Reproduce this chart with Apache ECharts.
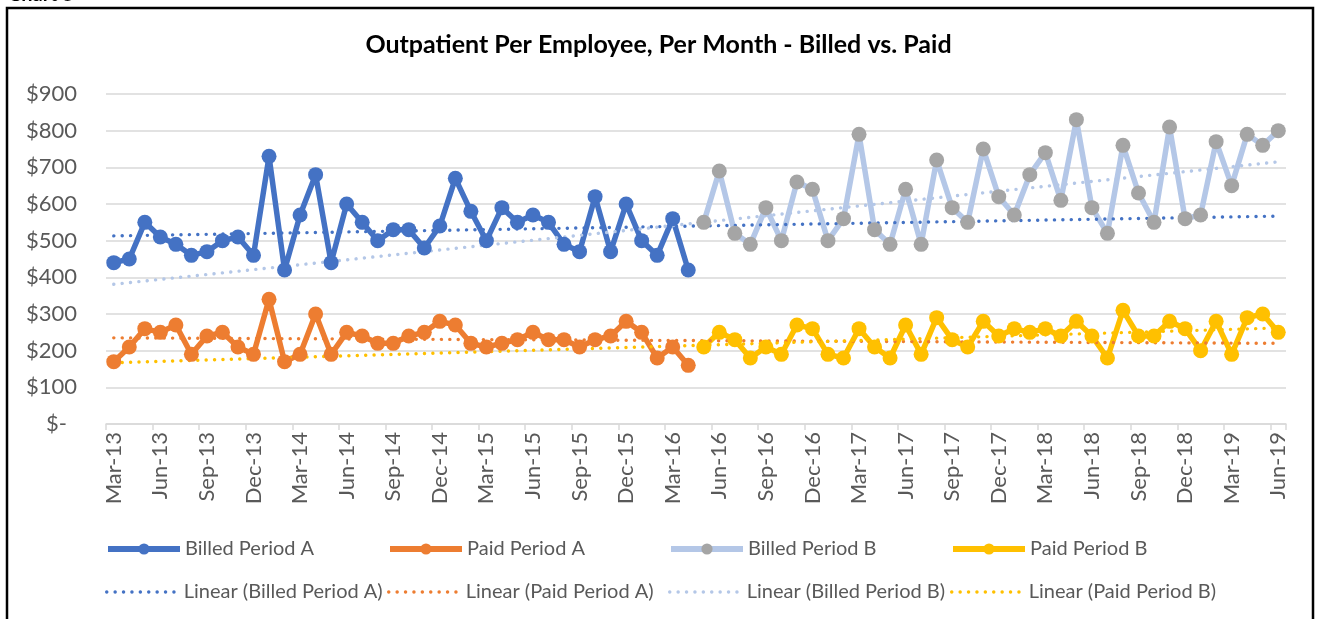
<!DOCTYPE html>
<html lang="en">
<head>
<meta charset="utf-8">
<title>Outpatient Per Employee, Per Month</title>
<script src="https://cdn.jsdelivr.net/npm/echarts@6/dist/echarts.min.js"></script>
<style>
  html, body { margin: 0; padding: 0; background: #fff; }
  #chart { width: 1317px; height: 619px; }
</style>
</head>
<body>
<div id="chart"></div>
<script>
// month labels Mar-13 .. Jun-19
var monthNames = ['Jan','Feb','Mar','Apr','May','Jun','Jul','Aug','Sep','Oct','Nov','Dec'];
var categories = [];
for (var i = 0; i < 76; i++) {
    var m = (2 + i) % 12;
    var y = 13 + Math.floor((2 + i) / 12);
    categories.push(monthNames[m] + '-' + y);
}

// Period A: Mar-13 .. Apr-16
var billedA = [440,450,550,510,490,460,470,500,510,460,730,420,570,680,440,600,550,500,530,
               530,480,540,670,580,500,590,550,570,550,490,470,620,470,600,500,460,560,420];
var paidA   = [170,210,260,250,270,190,240,250,210,190,340,170,190,300,190,250,240,220,220,
               240,250,280,270,220,210,220,230,250,230,230,210,230,240,280,250,180,210,160];
// Period B: May-16 .. Jun-19
var billedB = [550,690,520,490,590,500,660,640,500,560,790,530,490,640,490,720,590,550,750,
               620,570,680,740,610,830,590,520,760,630,550,810,560,570,770,650,790,760,800];
var paidB   = [210,250,230,180,210,190,270,260,190,180,260,210,180,270,190,290,230,210,280,
               240,260,250,260,240,280,240,180,310,240,240,280,260,200,280,190,290,300,250];

// trendline values at first and last month
var trendBilledA = [513, 567];
var trendPaidA   = [235, 220];
var trendBilledB = [381, 715];
var trendPaidB   = [167, 262];

function blank(n) { var a = []; for (var k = 0; k < n; k++) a.push('-'); return a; }
function trend(ends) {
    var a = [];
    for (var k = 0; k < categories.length; k++) a.push(null);
    a[0] = ends[0];
    a[categories.length - 1] = ends[1];
    return a;
}

var font = 'Lato, "Open Sans", sans-serif';
var txtGray = '#595959';

function lineSeries(name, data, lineColor, dotColor) {
    return {
        name: name,
        type: 'line',
        data: data,
        symbol: 'circle',
        symbolSize: 15,
        showAllSymbol: true,
        lineStyle: { color: lineColor, width: 5.5 },
        itemStyle: { color: dotColor },
        emphasis: { disabled: true }
    };
}
function trendSeries(name, ends, color) {
    return {
        name: name,
        type: 'line',
        data: trend(ends),
        connectNulls: true,
        symbol: 'none',
        z: 3,
        lineStyle: { color: color, width: 3.4, type: [0.1, 8.3], cap: 'round' },
        itemStyle: { color: color },
        emphasis: { disabled: true }
    };
}

var names = ['Billed Period A','Paid Period A','Billed Period B','Paid Period B',
             'Linear (Billed Period A)','Linear (Paid Period A)','Linear (Billed Period B)','Linear (Paid Period B)'];
var colX = [105, 387, 668, 950];
var legends = names.map(function (n, k) {
    var lg = {
        data: [n],
        left: colX[k % 4],
        top: k < 4 ? 539 : 582,
        padding: 0,
        itemWidth: 72,
        itemHeight: 14,
        itemGap: 6,
        selectedMode: false,
        textStyle: { color: txtGray, fontSize: 20, fontFamily: font }
    };
    if (k < 4) {
        lg.lineStyle = { width: 6 };
    } else {
        lg.lineStyle = { width: 3.4 };
        lg.itemStyle = { opacity: 0 };
    }
    return lg;
});

var myChart = echarts.init(document.getElementById('chart'));
var option = {
    animation: false,
    backgroundColor: '#fff',
    title: {
        text: 'Outpatient Per Employee, Per Month - Billed vs. Paid',
        left: 'center',
        top: 32,
        padding: 0,
        textStyle: { color: '#000', fontSize: 25, fontWeight: 'bold', fontFamily: font }
    },
    legend: legends,
    grid: { left: 106, right: 31, top: 94, bottom: 195 },
    xAxis: {
        type: 'category',
        data: categories,
        boundaryGap: true,
        axisLine: { lineStyle: { color: '#d9d9d9', width: 1.5 } },
        axisTick: { show: true, interval: 2, length: 6, lineStyle: { color: '#d9d9d9', width: 1.5 } },
        axisLabel: {
            interval: 2,
            rotate: 90,
            margin: 8,
            color: txtGray,
            fontSize: 22,
            fontFamily: font
        }
    },
    yAxis: {
        type: 'value',
        min: 0,
        max: 900,
        interval: 100,
        axisLine: { show: false },
        axisTick: { show: false },
        splitLine: { lineStyle: { color: '#d9d9d9', width: 1.5 } },
        axisLabel: {
            margin: 29,
            color: txtGray,
            fontSize: 22,
            fontFamily: font,
            formatter: function (v) { return v === 0 ? '{z|$-}' : '$' + v; },
            rich: { z: { color: txtGray, fontSize: 22, fontFamily: font, padding: [0, 10, 0, 0] } }
        }
    },
    series: [
        lineSeries('Billed Period A', billedA.concat(blank(billedB.length)), '#4472C4', '#4472C4'),
        lineSeries('Paid Period A', paidA.concat(blank(paidB.length)), '#ED7D31', '#ED7D31'),
        lineSeries('Billed Period B', blank(billedA.length).concat(billedB), '#B4C7E7', '#A5A5A5'),
        lineSeries('Paid Period B', blank(paidA.length).concat(paidB), '#FFC000', '#FFC000'),
        trendSeries('Linear (Billed Period A)', trendBilledA, '#4472C4'),
        trendSeries('Linear (Paid Period A)', trendPaidA, '#ED7D31'),
        trendSeries('Linear (Billed Period B)', trendBilledB, '#B4C7E7'),
        trendSeries('Linear (Paid Period B)', trendPaidB, '#FFC000')
    ],
    graphic: [
        {
            type: 'rect',
            silent: true,
            shape: { x: 7, y: 8, width: 1306, height: 700 },
            style: { fill: 'none', stroke: '#000', lineWidth: 2.5 }
        },
        {
            type: 'text',
            silent: true,
            left: 8,
            top: -15,
            style: { text: 'Chart 5', fill: '#000', font: 'bold 20px ' + font }
        }
    ]
};
myChart.setOption(option);
</script>
</body>
</html>
